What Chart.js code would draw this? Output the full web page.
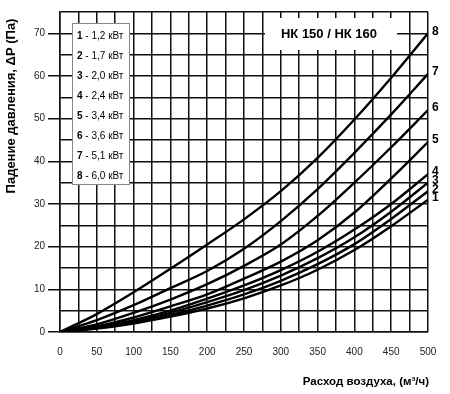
<!DOCTYPE html>
<html>
<head>
<meta charset="utf-8">
<script src="https://cdn.jsdelivr.net/npm/chart.js@4/dist/chart.umd.min.js"></script>
<style>
    html, body { margin: 0; padding: 0; background: #fff; }
    #wrap { width: 450px; height: 394px; }
</style>
</head>
<body>
<div id="wrap"><canvas id="dpChart" width="450" height="394"></canvas></div>
<script>
// расход воздуха, м3/ч
const flow = [0, 50, 100, 150, 200, 250, 300, 350, 400, 450, 500];

// падение давления, Па (кривые 1..8)
const curve1 = [0, 0.8, 2.0, 3.6, 5.5, 7.9, 10.9, 14.6, 19.2, 24.8, 31];
const curve2 = [0, 0.9, 2.2, 4.0, 6.2, 8.8, 12.0, 15.9, 20.6, 26.5, 33];
const curve3 = [0, 1.0, 2.5, 4.5, 7.0, 9.8, 13.2, 17.3, 22.2, 28.2, 35];
const curve4 = [0, 1.1, 2.8, 5.0, 7.8, 10.9, 14.5, 18.8, 24.0, 30.0, 37];
const curve5 = [0, 1.3, 3.4, 6.0, 8.8, 12.5, 16.5, 21.5, 28.0, 36.0, 44.5];
const curve6 = [0, 1.8, 4.5, 7.6, 11.2, 15.5, 20.5, 27.2, 35.0, 43.3, 52];
const curve7 = [0, 2.8, 6.3, 10.3, 14.3, 19.5, 26.0, 33.5, 42.0, 51.0, 60.5];
const curve8 = [0, 4.2, 9.3, 14.8, 20.5, 26.4, 33.0, 40.8, 49.8, 59.6, 70];

const curveNames = ['1', '2', '3', '4', '5', '6', '7', '8'];
const heaterPower = ['1,2 кВт', '1,7 кВт', '2,0 кВт', '2,4 кВт', '3,4 кВт', '3,6 кВт', '5,1 кВт', '6,0 кВт'];
const curves = [curve1, curve2, curve3, curve4, curve5, curve6, curve7, curve8];

const chartTitle = 'НК 150 / НК 160';
const xTitle = 'Расход воздуха, (м³/ч)';
const yTitle = 'Падение давления, ΔP (Па)';

const LINE = '#111';

const decorPlugin = {
    id: 'decor',
    beforeDatasetsDraw(chart) {
        const ctx = chart.ctx;
        ctx.save();

        // блок с заголовком
        ctx.fillStyle = '#fff';
        ctx.fillRect(265, 18, 132, 32);
        ctx.fillStyle = '#000';
        ctx.font = 'bold 13px "Liberation Sans", Arial, sans-serif';
        ctx.textAlign = 'center';
        ctx.textBaseline = 'middle';
        ctx.fillText(chartTitle, 329, 34);

        // легенда
        ctx.fillStyle = '#fff';
        ctx.fillRect(72.5, 23.5, 57, 161);
        ctx.strokeStyle = '#888';
        ctx.lineWidth = 1;
        ctx.strokeRect(72.5, 23.5, 57, 161);
        ctx.textAlign = 'left';
        for (let i = 0; i < curveNames.length; i++) {
            const y = 36 + i * 20;
            ctx.fillStyle = '#000';
            ctx.font = 'bold 10px "Liberation Sans", Arial, sans-serif';
            ctx.fillText(curveNames[i], 77, y);
            const w = ctx.measureText(curveNames[i]).width;
            ctx.font = '10px "Liberation Sans", Arial, sans-serif';
            ctx.fillText(' - ' + heaterPower[i], 77 + w, y);
        }
        ctx.restore();
    },
    afterDraw(chart) {
        const ctx = chart.ctx;
        const yScale = chart.scales.y;
        const area = chart.chartArea;
        ctx.save();
        ctx.fillStyle = '#000';

        // номера кривых справа
        ctx.font = 'bold 12px "Liberation Sans", Arial, sans-serif';
        ctx.textAlign = 'left';
        ctx.textBaseline = 'middle';
        curves.forEach(function (c, i) {
            const y = yScale.getPixelForValue(c[c.length - 1]) - 2;
            ctx.fillText(curveNames[i], area.right + 4, y);
        });

        // подписи осей
        ctx.font = 'bold 11.5px "Liberation Sans", Arial, sans-serif';
        ctx.textAlign = 'right';
        ctx.fillText(xTitle, 429, 382);

        ctx.translate(11, 106);
        ctx.rotate(-Math.PI / 2);
        ctx.textAlign = 'center';
        ctx.font = 'bold 13px "Liberation Sans", Arial, sans-serif';
        ctx.fillText(yTitle, 0, 0);
        ctx.restore();
    }
};

document.addEventListener('DOMContentLoaded', function () {
    const el = document.getElementById('dpChart');

    const datasets = curves.map(function (c, i) {
        return {
            label: curveNames[i],
            data: flow.map(function (x, k) { return { x: x, y: c[k] }; }),
            borderColor: '#000',
            borderWidth: 2.4,
            pointRadius: 0,
            fill: false,
            cubicInterpolationMode: 'monotone'
        };
    });

    new Chart(el, {
        type: 'line',
        data: { datasets: datasets },
        options: {
            responsive: false,
            animation: false,
            layout: { padding: { left: 0, top: 12, right: 22, bottom: 0 } },
            plugins: {
                legend: { display: false },
                tooltip: { enabled: false }
            },
            scales: {
                x: {
                    type: 'linear',
                    min: 0,
                    max: 500,
                    afterFit: function (s) { s.height = 62; },
                    grid: {
                        color: LINE,
                        lineWidth: 1.5,
                        tickLength: 8,
                        tickColor: 'transparent'
                    },
                    border: { color: LINE, width: 1.5 },
                    ticks: {
                        stepSize: 25,
                        padding: 6,
                        maxRotation: 0,
                        autoSkip: false,
                        color: '#222',
                        font: { family: '"Liberation Sans", Arial, sans-serif', size: 10 },
                        callback: function (v) { return v % 50 === 0 ? v : ''; }
                    }
                },
                y: {
                    min: 0,
                    max: 75,
                    afterFit: function (s) { s.width = 60; },
                    grid: {
                        color: LINE,
                        lineWidth: 1.5,
                        tickLength: 12,
                        tickColor: function (c) {
                            return c.tick && c.tick.value % 10 === 0 ? LINE : 'transparent';
                        }
                    },
                    border: { color: LINE, width: 1.5 },
                    ticks: {
                        stepSize: 5,
                        padding: 3,
                        autoSkip: false,
                        color: '#222',
                        font: { family: '"Liberation Sans", Arial, sans-serif', size: 10 },
                        callback: function (v) { return v % 10 === 0 ? v : ''; }
                    }
                }
            }
        },
        plugins: [decorPlugin]
    });
});
</script>
</body>
</html>
